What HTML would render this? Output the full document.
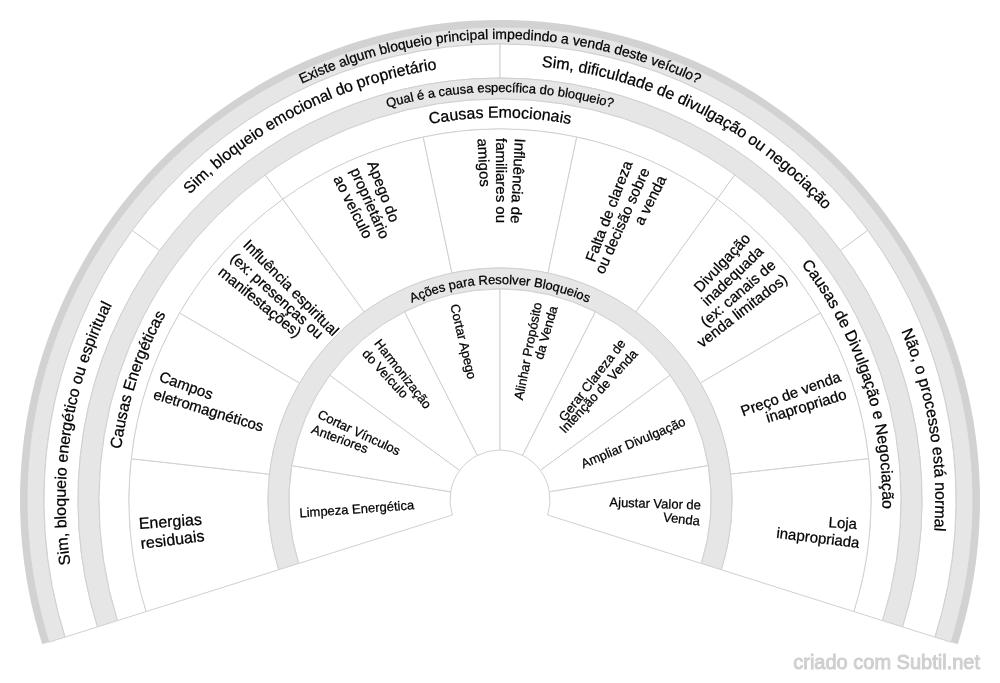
<!DOCTYPE html>
<html><head><meta charset="utf-8"><style>
html,body{margin:0;padding:0;background:#fff;width:1000px;height:683px;overflow:hidden;position:relative}
svg text{font-family:"Liberation Sans", sans-serif} .tx text{stroke:#000;stroke-width:0.25px}
</style></head><body>
<svg width="1000" height="683" viewBox="0 0 1000 683" style="position:absolute;left:0;top:0;will-change:transform">
<defs><path id="p1" d="M46.00,580.05 A461,461 0 1 1 954.00,580.05"/><path id="p2" d="M506.86,934.25 A434.3,434.3 0 1 1 642.07,89.60"/><path id="p3" d="M151.78,761.21 A435.3,435.3 0 1 1 916.56,373.64"/><path id="p4" d="M83.44,373.64 A435.3,435.3 0 1 1 848.22,761.21"/><path id="p5" d="M355.59,89.35 A435.3,435.3 0 1 1 495.25,935.27"/><path id="p6" d="M98.20,570.85 A408,408 0 1 1 901.80,570.85"/><path id="p7" d="M444.58,878.36 A382.4,382.4 0 1 1 681.49,163.41"/><path id="p8" d="M123.41,566.40 A382.4,382.4 0 1 1 876.59,566.40"/><path id="p9" d="M318.51,163.41 A382.4,382.4 0 1 1 555.42,878.36"/><path id="p10" d="M287.28,537.51 A216,216 0 1 1 712.72,537.51"/></defs>
<g class="tx"><path d="M42.22,644.34 A480,480 0 1 1 957.78,644.34 L951.11,642.23 A473,473 0 1 0 48.89,642.23 Z" fill="#d2d2d2" stroke="none" stroke-width="1.0"/>
<path d="M48.89,642.23 A473,473 0 1 1 951.11,642.23 L934.89,637.12 A456,456 0 1 0 65.11,637.12 Z" fill="#e6e6e6" stroke="#d0d0d0" stroke-width="1.0"/>
<path d="M65.11,637.12 A456,456 0 0 1 132.26,230.36 L159.68,250.47 A422,422 0 0 0 97.53,626.90 Z" fill="#fff" stroke="#d0d0d0" stroke-width="1.0"/>
<path d="M132.26,230.36 A456,456 0 0 1 500.00,44.00 L500.00,78.00 A422,422 0 0 0 159.68,250.47 Z" fill="#fff" stroke="#d0d0d0" stroke-width="1.0"/>
<path d="M500.00,44.00 A456,456 0 0 1 867.74,230.36 L840.32,250.47 A422,422 0 0 0 500.00,78.00 Z" fill="#fff" stroke="#d0d0d0" stroke-width="1.0"/>
<path d="M867.74,230.36 A456,456 0 0 1 934.89,637.12 L902.47,626.90 A422,422 0 0 0 840.32,250.47 Z" fill="#fff" stroke="#d0d0d0" stroke-width="1.0"/>
<path d="M97.53,626.90 A422,422 0 1 1 902.47,626.90 L882.44,620.58 A401,401 0 1 0 117.56,620.58 Z" fill="#e6e6e6" stroke="#d0d0d0" stroke-width="1.0"/>
<path d="M117.56,620.58 A401,401 0 0 1 265.24,174.90 L282.81,199.22 A371,371 0 0 0 146.17,611.56 Z" fill="#fff" stroke="#d0d0d0" stroke-width="1.0"/>
<path d="M265.24,174.90 A401,401 0 0 1 734.76,174.90 L717.19,199.22 A371,371 0 0 0 282.81,199.22 Z" fill="#fff" stroke="#d0d0d0" stroke-width="1.0"/>
<path d="M734.76,174.90 A401,401 0 0 1 882.44,620.58 L853.83,611.56 A371,371 0 0 0 717.19,199.22 Z" fill="#fff" stroke="#d0d0d0" stroke-width="1.0"/>
<path d="M146.17,611.56 A371,371 0 0 1 131.30,458.72 L269.44,474.18 A232,232 0 0 0 278.74,569.76 Z" fill="#fff" stroke="#d0d0d0" stroke-width="1.0"/>
<path d="M131.30,458.72 A371,371 0 0 1 179.61,312.94 L299.65,383.03 A232,232 0 0 0 269.44,474.18 Z" fill="#fff" stroke="#d0d0d0" stroke-width="1.0"/>
<path d="M179.61,312.94 A371,371 0 0 1 282.81,199.22 L364.18,311.91 A232,232 0 0 0 299.65,383.03 Z" fill="#fff" stroke="#d0d0d0" stroke-width="1.0"/>
<path d="M282.81,199.22 A371,371 0 0 1 423.22,137.03 L451.98,273.02 A232,232 0 0 0 364.18,311.91 Z" fill="#fff" stroke="#d0d0d0" stroke-width="1.0"/>
<path d="M423.22,137.03 A371,371 0 0 1 576.78,137.03 L548.02,273.02 A232,232 0 0 0 451.98,273.02 Z" fill="#fff" stroke="#d0d0d0" stroke-width="1.0"/>
<path d="M576.78,137.03 A371,371 0 0 1 717.19,199.22 L635.82,311.91 A232,232 0 0 0 548.02,273.02 Z" fill="#fff" stroke="#d0d0d0" stroke-width="1.0"/>
<path d="M717.19,199.22 A371,371 0 0 1 820.39,312.94 L700.35,383.03 A232,232 0 0 0 635.82,311.91 Z" fill="#fff" stroke="#d0d0d0" stroke-width="1.0"/>
<path d="M820.39,312.94 A371,371 0 0 1 868.70,458.72 L730.56,474.18 A232,232 0 0 0 700.35,383.03 Z" fill="#fff" stroke="#d0d0d0" stroke-width="1.0"/>
<path d="M868.70,458.72 A371,371 0 0 1 853.83,611.56 L721.26,569.76 A232,232 0 0 0 730.56,474.18 Z" fill="#fff" stroke="#d0d0d0" stroke-width="1.0"/>
<path d="M278.74,569.76 A232,232 0 1 1 721.26,569.76 L701.23,563.45 A211,211 0 1 0 298.77,563.45 Z" fill="#e6e6e6" stroke="#d0d0d0" stroke-width="1.0"/>
<path d="M298.77,563.45 A211,211 0 0 1 291.82,465.63 L450.67,491.86 A50,50 0 0 0 452.31,515.04 Z" fill="#fff" stroke="#d0d0d0" stroke-width="1.0"/>
<path d="M291.82,465.63 A211,211 0 0 1 329.84,375.23 L459.68,470.43 A50,50 0 0 0 450.67,491.86 Z" fill="#fff" stroke="#d0d0d0" stroke-width="1.0"/>
<path d="M329.84,375.23 A211,211 0 0 1 404.62,311.79 L477.40,455.40 A50,50 0 0 0 459.68,470.43 Z" fill="#fff" stroke="#d0d0d0" stroke-width="1.0"/>
<path d="M404.62,311.79 A211,211 0 0 1 500.00,289.00 L500.00,450.00 A50,50 0 0 0 477.40,455.40 Z" fill="#fff" stroke="#d0d0d0" stroke-width="1.0"/>
<path d="M500.00,289.00 A211,211 0 0 1 595.38,311.79 L522.60,455.40 A50,50 0 0 0 500.00,450.00 Z" fill="#fff" stroke="#d0d0d0" stroke-width="1.0"/>
<path d="M595.38,311.79 A211,211 0 0 1 670.16,375.23 L540.32,470.43 A50,50 0 0 0 522.60,455.40 Z" fill="#fff" stroke="#d0d0d0" stroke-width="1.0"/>
<path d="M670.16,375.23 A211,211 0 0 1 708.18,465.63 L549.33,491.86 A50,50 0 0 0 540.32,470.43 Z" fill="#fff" stroke="#d0d0d0" stroke-width="1.0"/>
<path d="M708.18,465.63 A211,211 0 0 1 701.23,563.45 L547.69,515.04 A50,50 0 0 0 549.33,491.86 Z" fill="#fff" stroke="#d0d0d0" stroke-width="1.0"/>
<text font-size="14" fill="#000" text-anchor="middle" letter-spacing="0"><textPath href="#p1" startOffset="50%">Existe algum bloqueio principal impedindo a venda deste veículo?</textPath></text>
<text font-size="16" fill="#000" text-anchor="middle" letter-spacing="0"><textPath href="#p2" startOffset="50%">Sim, bloqueio energético ou espiritual</textPath></text>
<text font-size="16" fill="#000" text-anchor="middle" letter-spacing="0"><textPath href="#p3" startOffset="50%">Sim, bloqueio emocional do proprietário</textPath></text>
<text font-size="16" fill="#000" text-anchor="middle" letter-spacing="0"><textPath href="#p4" startOffset="50%">Sim, dificuldade de divulgação ou negociação</textPath></text>
<text font-size="16" fill="#000" text-anchor="middle" letter-spacing="0"><textPath href="#p5" startOffset="50%">Não, o processo está normal</textPath></text>
<text font-size="13" fill="#000" text-anchor="middle" letter-spacing="0"><textPath href="#p6" startOffset="50%">Qual é a causa específica do bloqueio?</textPath></text>
<text font-size="16" fill="#000" text-anchor="middle" letter-spacing="0"><textPath href="#p7" startOffset="50%">Causas Energéticas</textPath></text>
<text font-size="16" fill="#000" text-anchor="middle" letter-spacing="0"><textPath href="#p8" startOffset="50%">Causas Emocionais</textPath></text>
<text font-size="16" fill="#000" text-anchor="middle" letter-spacing="0"><textPath href="#p9" startOffset="50%">Causas de Divulgação e Negociação</textPath></text>
<text font-size="13" fill="#000" text-anchor="middle" letter-spacing="0"><textPath href="#p10" startOffset="50%">Ações para Resolver Bloqueios</textPath></text>
<text transform="translate(138.87,525.08) rotate(-3.97)" y="4.00" font-size="16" fill="#000" text-anchor="start">Energias</text><text transform="translate(140.81,544.98) rotate(-7.14)" y="4.00" font-size="16" fill="#000" text-anchor="start">residuais</text>
<text transform="translate(159.44,377.27) rotate(19.82)" y="3.75" font-size="15" fill="#000" text-anchor="start">Campos</text><text transform="translate(153.54,395.07) rotate(16.85)" y="3.75" font-size="15" fill="#000" text-anchor="start">eletromagnéticos</text>
<text transform="translate(244.88,243.18) rotate(45.19)" y="3.75" font-size="15" fill="#000" text-anchor="start">Influência espiritual</text><text transform="translate(231.92,256.73) rotate(42.22)" y="3.75" font-size="15" fill="#000" text-anchor="start">(ex: presenças ou</text><text transform="translate(219.69,270.94) rotate(39.25)" y="3.75" font-size="15" fill="#000" text-anchor="start">manifestações)</text>
<text transform="translate(370.74,161.87) rotate(69.08)" y="3.75" font-size="15" fill="#000" text-anchor="start">Apego do</text><text transform="translate(353.40,169.01) rotate(66.11)" y="3.75" font-size="15" fill="#000" text-anchor="start">proprietário</text><text transform="translate(336.46,177.05) rotate(63.14)" y="3.75" font-size="15" fill="#000" text-anchor="start">ao veículo</text>
<text transform="translate(518.74,138.49) rotate(92.97)" y="3.75" font-size="15" fill="#000" text-anchor="start">Influência de</text><text transform="translate(500.00,138.00) rotate(90.00)" y="3.75" font-size="15" fill="#000" text-anchor="start">familiares ou</text><text transform="translate(481.26,138.49) rotate(87.03)" y="3.75" font-size="15" fill="#000" text-anchor="start">amigos</text>
<text transform="translate(629.26,161.87) rotate(-69.08)" y="3.75" font-size="15" fill="#000" text-anchor="end">Falta de clareza</text><text transform="translate(646.60,169.01) rotate(-66.11)" y="3.75" font-size="15" fill="#000" text-anchor="end">ou decisão sobre</text><text transform="translate(663.54,177.05) rotate(-63.14)" y="3.75" font-size="15" fill="#000" text-anchor="end">a venda</text>
<text transform="translate(748.39,236.66) rotate(-46.67)" y="3.75" font-size="15" fill="#000" text-anchor="end">Divulgação</text><text transform="translate(761.69,249.87) rotate(-43.71)" y="3.75" font-size="15" fill="#000" text-anchor="end">inadequada</text><text transform="translate(774.29,263.76) rotate(-40.74)" y="3.75" font-size="15" fill="#000" text-anchor="end">(ex: canais de</text><text transform="translate(786.15,278.27) rotate(-37.77)" y="3.75" font-size="15" fill="#000" text-anchor="end">venda limitados)</text>
<text transform="translate(840.56,377.27) rotate(-19.82)" y="3.75" font-size="15" fill="#000" text-anchor="end">Preço de venda</text><text transform="translate(846.46,395.07) rotate(-16.85)" y="3.75" font-size="15" fill="#000" text-anchor="end">inapropriado</text>
<text transform="translate(861.09,525.70) rotate(4.07)" y="3.75" font-size="15" fill="#000" text-anchor="end">Loja&#160;</text><text transform="translate(859.27,544.36) rotate(7.04)" y="3.75" font-size="15" fill="#000" text-anchor="end">inapropriada</text>
<text transform="translate(299.51,514.24) rotate(-4.06)" y="3.25" font-size="13" fill="#000" text-anchor="start">Limpeza Energética</text>
<text transform="translate(318.02,414.65) rotate(25.13)" y="3.25" font-size="13" fill="#000" text-anchor="start">Cortar Vínculos</text><text transform="translate(311.72,429.62) rotate(20.50)" y="3.25" font-size="13" fill="#000" text-anchor="start">Anteriores</text>
<text transform="translate(376.26,341.60) rotate(52.00)" y="3.25" font-size="13" fill="#000" text-anchor="start">Harmonização</text><text transform="translate(363.87,352.11) rotate(47.37)" y="3.25" font-size="13" fill="#000" text-anchor="start">do Veículo</text>
<text transform="translate(453.29,304.50) rotate(76.56)" y="3.25" font-size="13" fill="#000" text-anchor="start">Cortar Apego</text>
<text transform="translate(538.77,302.77) rotate(-78.88)" y="3.25" font-size="13" fill="#000" text-anchor="end">Alinhar Propósito</text><text transform="translate(554.57,306.55) rotate(-74.25)" y="3.25" font-size="13" fill="#000" text-anchor="end">da Venda</text>
<text transform="translate(623.74,341.60) rotate(-52.00)" y="3.25" font-size="13" fill="#000" text-anchor="end">Gerar Clareza de</text><text transform="translate(636.13,352.11) rotate(-47.37)" y="3.25" font-size="13" fill="#000" text-anchor="end">Intenção de Venda</text>
<text transform="translate(685.28,422.07) rotate(-22.81)" y="3.25" font-size="13" fill="#000" text-anchor="end">Ampliar Divulgação</text>
<text transform="translate(700.91,506.13) rotate(1.75)" y="3.25" font-size="13" fill="#000" text-anchor="end">Ajustar Valor de</text><text transform="translate(699.76,522.33) rotate(6.38)" y="3.25" font-size="13" fill="#000" text-anchor="end">Venda</text></g>
<text x="980" y="669" font-size="20" fill="#cfcfcf" stroke="#cfcfcf" stroke-width="0.9" text-anchor="end">criado com Subtil.net</text>
</svg>
</body></html>
